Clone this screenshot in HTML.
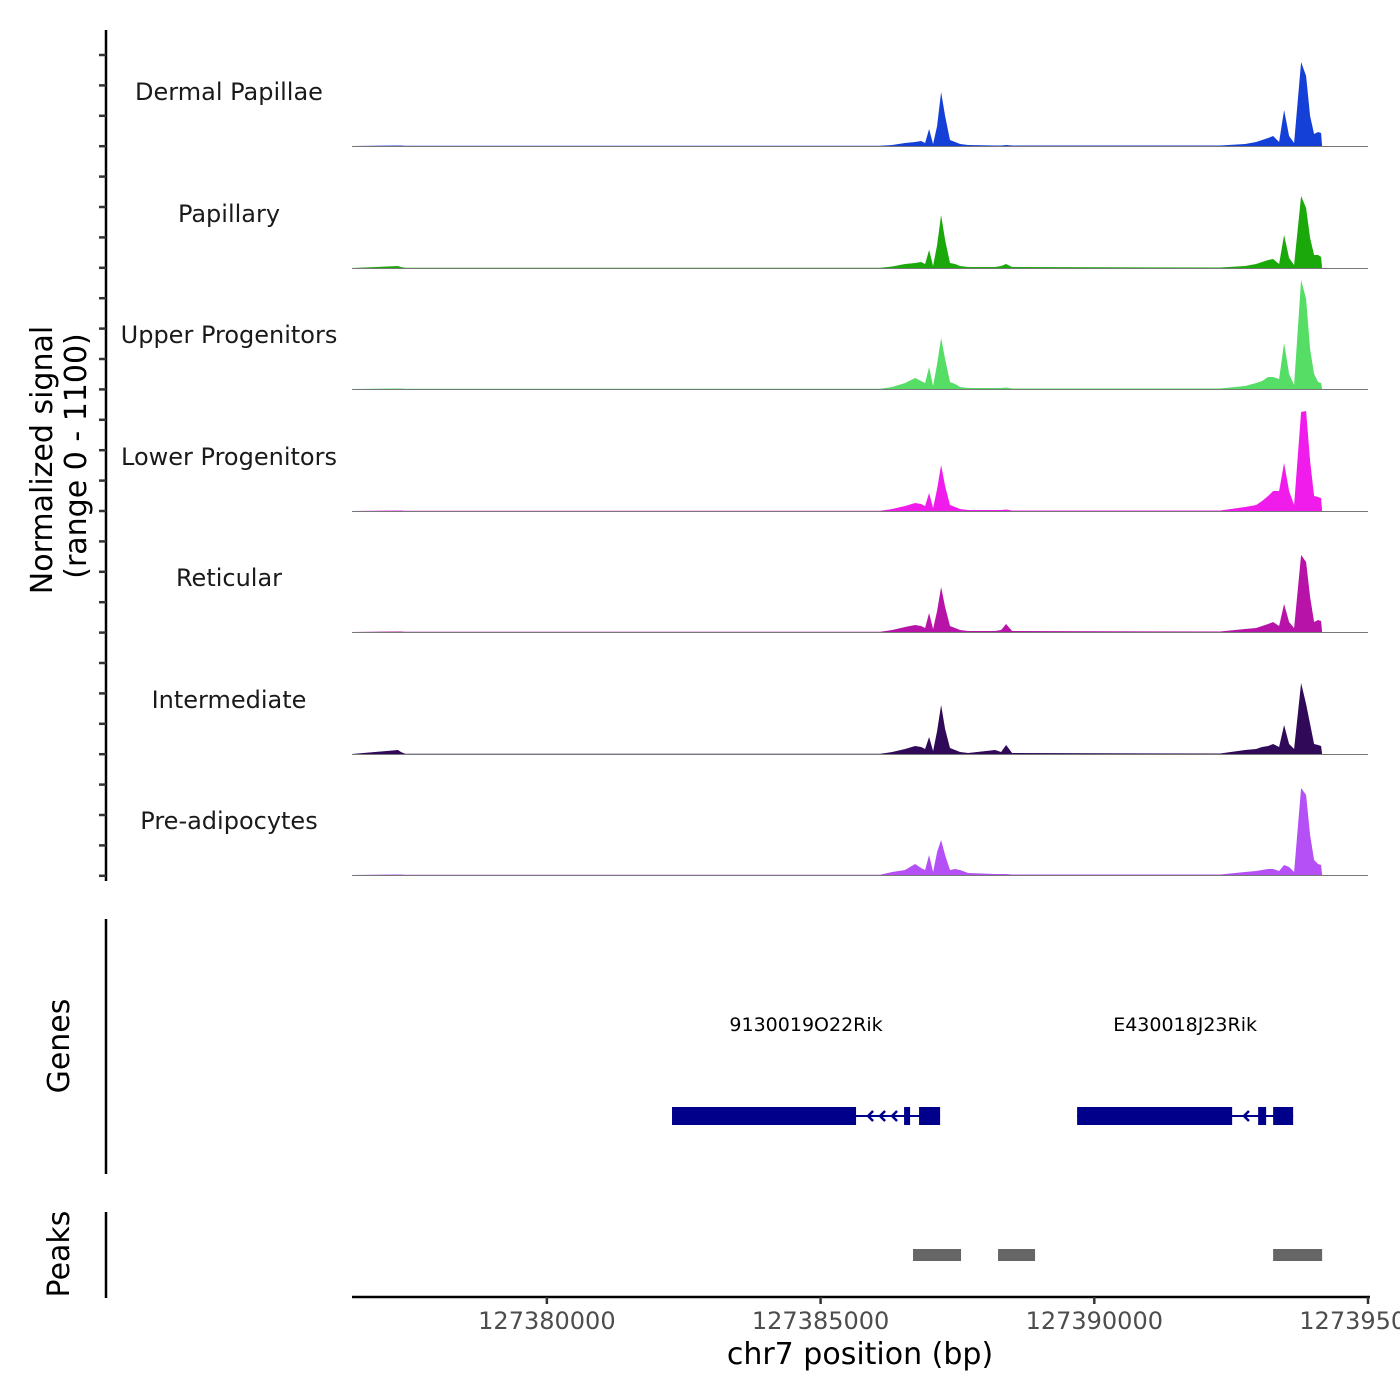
<!DOCTYPE html>
<html><head><meta charset="utf-8"><style>
html,body{margin:0;padding:0;background:#fff;width:1400px;height:1400px;overflow:hidden}
svg{display:block;font-family:"DejaVu Sans","Liberation Sans",sans-serif}
</style></head><body>
<svg id="chart" width="1400" height="1400" viewBox="0 0 1400 1400" xmlns="http://www.w3.org/2000/svg">
<g id="g"></g>
</svg>
<script>
const positions=[127376440,127377280,127377335,127377410,127386087,127386306,127386543,127386726,127386836,127386909,127386982,127387055,127387128,127387201,127387274,127387365,127387457,127387548,127387694,127388188,127388297,127388389,127388498,127392298,127392755,127392956,127393066,127393175,127393267,127393376,127393468,127393559,127393650,127393778,127393870,127393943,127394016,127394089,127394144,127394162];
const trackNames=["Dermal Papillae","Papillary","Upper Progenitors","Lower Progenitors","Reticular","Intermediate","Pre-adipocytes"];
const trackColors=["#1440d8","#1aa80a","#55dd66","#f01cec","#b813a8","#300a58","#b450f5"];
const sigDP=[0,5,5,2,2,10,30,40,50,30,170,20,200,540,300,60,40,20,10,5,5,10,5,5,20,40,60,80,100,40,360,100,30,840,700,300,120,140,130,0];
const sigPap=[0,20,10,2,2,15,40,50,60,40,180,20,230,530,280,50,40,20,10,10,20,40,10,5,20,40,60,80,90,40,330,100,30,720,600,300,130,130,110,0];
const sigUpper=[0,5,5,2,2,20,60,110,80,60,220,30,250,510,300,70,50,20,10,10,10,15,5,5,30,60,80,120,120,100,460,150,40,1090,900,400,150,70,60,0];
const sigLower=[0,5,5,2,2,20,50,80,70,50,180,30,220,460,250,60,40,20,10,10,10,15,5,5,40,60,100,150,200,200,480,200,60,990,1000,500,150,140,130,0];
const sigRet=[0,5,5,2,2,20,50,70,60,40,190,30,210,450,250,60,40,20,10,10,20,80,10,5,30,40,60,80,100,60,280,100,40,770,700,350,100,120,110,0];
const sigInter=[0,40,20,2,2,20,50,80,70,50,170,30,230,490,250,60,40,20,10,40,20,90,10,5,40,50,70,80,100,70,290,100,50,710,500,300,100,90,80,0];
const sigPre=[0,5,5,2,2,30,50,110,70,50,200,30,230,350,200,50,60,50,20,10,10,10,5,5,30,40,50,60,60,40,100,80,30,870,800,400,150,110,100,0];
const signals=[sigDP,sigPap,sigUpper,sigLower,sigRet,sigInter,sigPre];
const xTicks=[127380000,127385000,127390000,127395000];
const geneNames=["9130019O22Rik","E430018J23Rik"];
const geneStart=[127382286,127389686];
const geneEnd=[127387183,127393632];
const thickStart=[127382286,127389686];
const thickEnd=[127385648,127392518];
const exonStart=[127386525,127386799,127392993,127393267];
const exonEnd=[127386635,127387183,127393139,127393632];
const peakStart=[127386689,127388242,127393267];
const peakEnd=[127387566,127388918,127394162];

const NS="http://www.w3.org/2000/svg";
const g=document.getElementById('g');
const X0=352,X1=1368,BP0=127376440,BP1=127395000;
const xs=bp=>X0+(bp-BP0)/(BP1-BP0)*(X1-X0);
const baselines=[146,268,389,511,632,754,875];
const ys=(v,b)=>b-v/10;
function el(tag,attrs,text){const e=document.createElementNS(NS,tag);for(const k in attrs)e.setAttribute(k,attrs[k]);if(text!==undefined)e.textContent=text;g.appendChild(e);return e;}

signals.forEach((s,i)=>{
  const b=baselines[i];
  let d='M'+xs(positions[0])+','+b;
  s.forEach((v,j)=>{d+=' L'+xs(positions[j]).toFixed(1)+','+ys(v,b).toFixed(1);});
  d+=' L'+xs(positions[positions.length-1])+','+b+' Z';
  const p=el('path',{d:d,fill:trackColors[i]});
  
  
  const l=el('line',{x1:X0,x2:X1,y1:b+0.5,y2:b+0.5,stroke:'#777','stroke-width':1});
  
  
  const t=el('text',{x:229,y:b-46,'text-anchor':'middle','font-size':24,fill:'#1a1a1a'},trackNames[i]);
  
  
});
let a=el('line',{x1:106,x2:106,y1:30,y2:881,stroke:'#000','stroke-width':2.5});

for(let k=0;k<28;k++){const y=55+k*30.4;const t=el('line',{x1:99,x2:106,y1:y,y2:y,stroke:'#333','stroke-width':2.5});}
a=el('line',{x1:106,x2:106,y1:919,y2:1174,stroke:'#000','stroke-width':2.5});

a=el('line',{x1:106,x2:106,y1:1212,y2:1298,stroke:'#000','stroke-width':2.5});

let t=el('text',{transform:'translate(52,460) rotate(-90)','text-anchor':'middle','font-size':30,fill:'#000'},'Normalized signal');

t=el('text',{transform:'translate(86,456) rotate(-90)','text-anchor':'middle','font-size':30,fill:'#000'},'(range 0 - 1100)');

t=el('text',{transform:'translate(69,1046) rotate(-90)','text-anchor':'middle','font-size':30,fill:'#000'},'Genes');

t=el('text',{transform:'translate(69,1254) rotate(-90)','text-anchor':'middle','font-size':30,fill:'#000'},'Peaks');

geneNames.forEach((n,i)=>{
  const gl=el('line',{x1:xs(geneStart[i]),x2:xs(geneEnd[i]),y1:1116,y2:1116,stroke:'#00008b','stroke-width':2});
  
  const r=el('rect',{x:xs(thickStart[i]),y:1107,width:xs(thickEnd[i])-xs(thickStart[i]),height:18,fill:'#00008b'});
  
  for(let k=1;k<=3;k++){const ax=xs(thickEnd[i])+k*((xs(exonStart[i*2])-xs(thickEnd[i]))/(i==0?4:2.2));if(i==1&&k>1)break;
    const ar=el('path',{d:`M${ax+5},1111 L${ax},1116 L${ax+5},1121`,fill:'none',stroke:'#00008b','stroke-width':2.5});
    }
  const lab=el('text',{x:(xs(geneStart[i])+xs(geneEnd[i]))/2,y:1031,'text-anchor':'middle','font-size':19,fill:'#000'},n);
  
});
exonStart.forEach((s,i)=>{const r=el('rect',{x:xs(s),y:1107,width:Math.max(4,xs(exonEnd[i])-xs(s)),height:18,fill:'#00008b'});
  });
peakStart.forEach((s,i)=>{const r=el('rect',{x:xs(s),y:1249,width:xs(peakEnd[i])-xs(s),height:12,fill:'#666'});
  });
a=el('line',{x1:X0,x2:X1+2,y1:1297,y2:1297,stroke:'#000','stroke-width':2.5});

xTicks.forEach(v=>{const x=xs(v);
  const tk=el('line',{x1:x,x2:x,y1:1297,y2:1304,stroke:'#333','stroke-width':2.5});
  
  const tl=el('text',{x:x,y:1329,'text-anchor':'middle','font-size':24,fill:'#4d4d4d'},String(v));
  });
t=el('text',{x:860,y:1364,'text-anchor':'middle','font-size':30,fill:'#000'},'chr7 position (bp)');

</script>
</body></html>
